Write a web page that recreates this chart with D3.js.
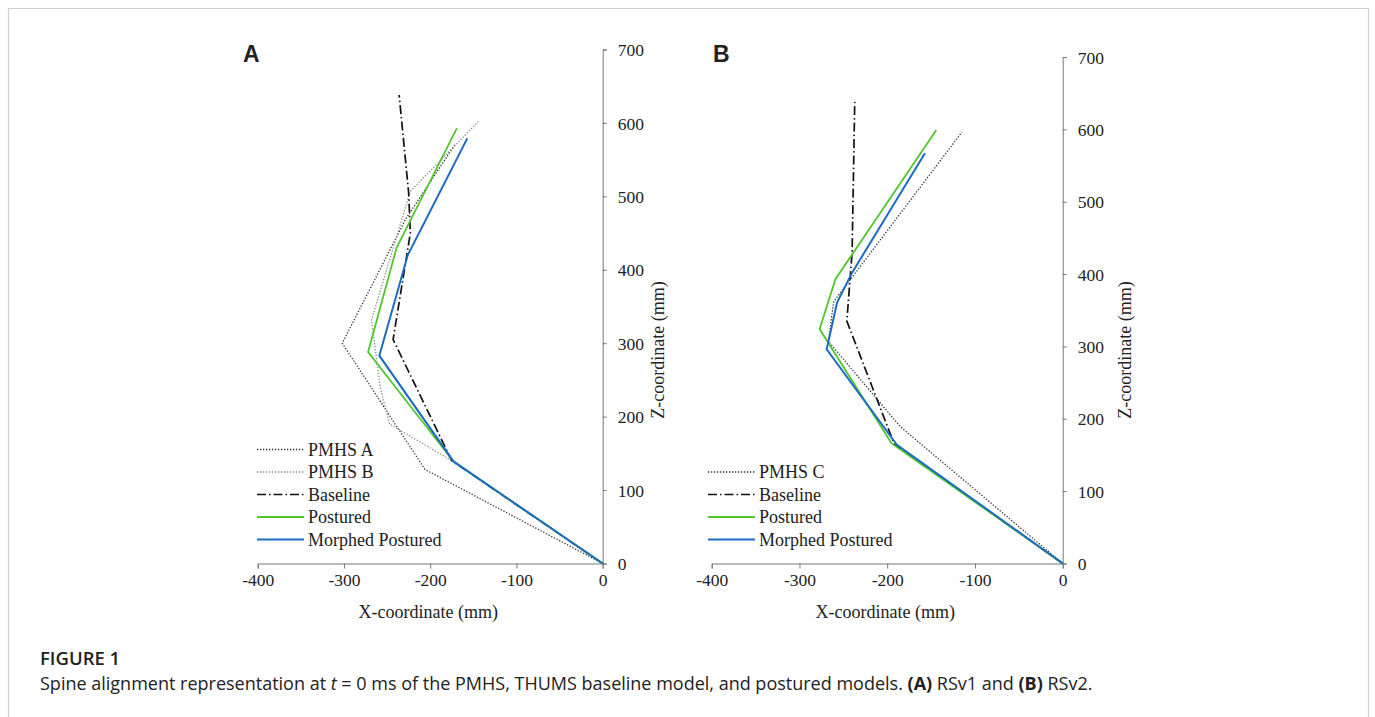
<!DOCTYPE html>
<html>
<head>
<meta charset="utf-8">
<script src="https://d3js.org/d3.v7.min.js"></script>
<style>
  body { margin: 0; background: #fff; }
  svg text { font-family: "Liberation Serif", "Times New Roman", serif; fill: #222; }
</style>
</head>
<body>
<div id="chart"></div>
<script>
// ---- data (mm) ----
var xTicks = [-400, -300, -200, -100, 0];
var zTicks = [0, 100, 200, 300, 400, 500, 600, 700];

// panel A (RSv1)
var pmhsA_x = [0, -206, -302, -228, -171];
var pmhsA_z = [0, 128, 300, 470, 571];
var pmhsB_x = [0, -175, -247, -258, -268, -223, -144];
var pmhsB_z = [0, 140, 190, 240, 332, 507, 602];
var baseA_x = [0, -175, -243, -223, -225, -236];
var baseA_z = [0, 140, 305, 450, 505, 638];
var postA_x = [0, -173, -272, -239, -169];
var postA_z = [0, 139, 288, 430, 593];
var morphA_x = [0, -173, -259, -226, -157];
var morphA_z = [0, 139, 283, 420, 579];

// panel B (RSv2)
var pmhsC_x = [0, -185, -267, -261, -115];
var pmhsC_z = [0, 189, 307, 362, 596];
var baseB_x = [0, -192, -246, -240, -237];
var baseB_z = [0, 165, 335, 430, 638];
var postB_x = [0, -195, -277, -259, -144];
var postB_z = [0, 166, 324, 393, 599];
var morphB_x = [0, -189, -269, -257, -240, -157];
var morphB_z = [0, 164, 296, 361, 402, 567];

var STYLES = {
  pmhsDark:  {color: '#333', width: 1.3, dash: '1.3,1.7'},
  pmhsLight: {color: '#8a8a8a', width: 1.3, dash: '1.3,1.7'},
  baseline:  {color: '#111', width: 1.7, dash: '9,3,1.5,3'},
  postured:  {color: '#4fc72a', width: 1.8, dash: null},
  morphed:   {color: '#1a6cc4', width: 2, dash: null}
};

var W = 1375, H = 717;
var svg = d3.select('#chart').append('svg').attr('width', W).attr('height', H);

// frame of the figure box
svg.append('path')
  .attr('d', 'M8.5,' + (H + 2) + ' V8.5 H1368.5 V' + (H + 2))
  .attr('fill', 'none').attr('stroke', '#cfcfcf').attr('stroke-width', 1.2);

function zip(xs, zs) {
  return xs.map(function(x, i) { return [x, zs[i]]; });
}

function drawPanel(cfg) {
  var x = d3.scaleLinear().domain([-400, 0]).range([cfg.left, cfg.right]);
  var y = d3.scaleLinear().domain([0, 700]).range([cfg.bottom, cfg.top]);
  var g = svg.append('g');
  var fmt = function(d) { return String(d); };

  var xAxis = g.append('g')
    .attr('transform', 'translate(0,' + cfg.bottom + ')')
    .call(d3.axisBottom(x).tickValues(xTicks).tickSize(5).tickPadding(5).tickFormat(fmt));
  var yAxis = g.append('g')
    .attr('transform', 'translate(' + cfg.right + ',0)')
    .call(d3.axisRight(y).tickValues(zTicks).tickSize(4).tickPadding(11).tickFormat(fmt));

  [xAxis, yAxis].forEach(function(a) {
    a.attr('font-family', null).attr('font-size', null);
    a.select('.domain').attr('stroke', '#777');
    a.selectAll('.tick line').attr('stroke', '#777');
    a.selectAll('.tick text')
      .style('font-family', '"Liberation Serif", serif')
      .style('font-size', '17.5px').attr('fill', '#222');
  });
  yAxis.selectAll('.tick text').attr('dy', '0.35em');

  g.append('text')
    .attr('x', (cfg.left + cfg.right) / 2 - 2).attr('y', 618)
    .attr('text-anchor', 'middle').style('font-size', '18px')
    .text('X-coordinate (mm)');
  g.append('text')
    .attr('transform', 'translate(' + (cfg.right + cfg.zLabelOff) + ',350) rotate(-90)')
    .attr('text-anchor', 'middle').style('font-size', '18px')
    .text('Z-coordinate (mm)');

  g.append('text')
    .attr('x', cfg.letterX).attr('y', 62)
    .style('font-family', '"Liberation Sans", Arial, sans-serif')
    .style('font-weight', 'bold').style('font-size', '23px').attr('fill', '#111')
    .text(cfg.letter);

  var line = d3.line().x(function(d) { return x(d[0]); }).y(function(d) { return y(d[1]); });

  cfg.series.forEach(function(s) {
    var st = STYLES[s.style];
    g.append('path')
      .datum(zip(s.xs, s.zs))
      .attr('d', line)
      .attr('fill', 'none')
      .attr('stroke', st.color)
      .attr('stroke-width', st.width)
      .attr('stroke-dasharray', st.dash)
      .attr('stroke-linejoin', 'miter');
  });

  // legend
  var leg = g.append('g');
  cfg.series.forEach(function(s, i) {
    var st = STYLES[s.style];
    var yy = cfg.legendY + i * 22.5;
    leg.append('line')
      .attr('x1', cfg.legendX).attr('x2', cfg.legendX + 47)
      .attr('y1', yy).attr('y2', yy)
      .attr('stroke', st.color).attr('stroke-width', st.width)
      .attr('stroke-dasharray', st.dash);
    leg.append('text')
      .attr('x', cfg.legendX + 51).attr('y', yy).attr('dy', '0.35em')
      .style('font-size', '18px')
      .text(s.name);
  });
}

drawPanel({
  letter: 'A', letterX: 243, zLabelOff: 61,
  left: 257.7, right: 602.7, top: 49.5, bottom: 563.5,
  legendX: 257, legendY: 449.5,
  series: [
    {name: 'PMHS A', style: 'pmhsDark', xs: pmhsA_x, zs: pmhsA_z},
    {name: 'PMHS B', style: 'pmhsLight', xs: pmhsB_x, zs: pmhsB_z},
    {name: 'Baseline', style: 'baseline', xs: baseA_x, zs: baseA_z},
    {name: 'Postured', style: 'postured', xs: postA_x, zs: postA_z},
    {name: 'Morphed Postured', style: 'morphed', xs: morphA_x, zs: morphA_z}
  ]
});

drawPanel({
  letter: 'B', letterX: 713, zLabelOff: 68,
  left: 711.7, right: 1062.7, top: 57, bottom: 563.5,
  legendX: 708, legendY: 472,
  series: [
    {name: 'PMHS C', style: 'pmhsDark', xs: pmhsC_x, zs: pmhsC_z},
    {name: 'Baseline', style: 'baseline', xs: baseB_x, zs: baseB_z},
    {name: 'Postured', style: 'postured', xs: postB_x, zs: postB_z},
    {name: 'Morphed Postured', style: 'morphed', xs: morphB_x, zs: morphB_z}
  ]
});

// caption
svg.append('text')
  .attr('x', 40).attr('y', 665)
  .style('font-family', '"Open Sans", "Noto Sans", sans-serif')
  .style('font-size', '18.5px').style('font-weight', '600')
  .attr('fill', '#666')
  .text('FIGURE 1');

var cap = svg.append('text')
  .attr('x', 40).attr('y', 690)
  .style('font-family', '"Open Sans", "Noto Sans", sans-serif')
  .style('font-size', '18px')
  .attr('fill', '#5a5a5a');
cap.append('tspan').text('Spine alignment representation at ');
cap.append('tspan').style('font-style', 'italic').text('t');
cap.append('tspan').text(' = 0 ms of the PMHS, THUMS baseline model, and postured models. ');
cap.append('tspan').style('font-weight', 'bold').text('(A)');
cap.append('tspan').text(' RSv1 and ');
cap.append('tspan').style('font-weight', 'bold').text('(B)');
cap.append('tspan').text(' RSv2.');
</script>
</body>
</html>
